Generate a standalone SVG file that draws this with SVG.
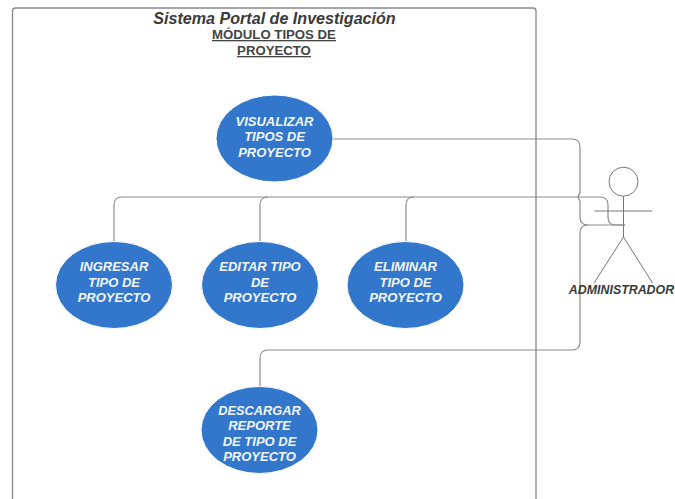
<svg xmlns="http://www.w3.org/2000/svg" width="675" height="499" viewBox="0 0 675 499">
<style>
.c{fill:none;stroke:#8c8c8c;stroke-width:1.2}
.u{fill:#3277cc;stroke:#fff;stroke-width:1}
.a{fill:none;stroke:#777;stroke-width:1}
text{font-family:"Liberation Sans",Arial,sans-serif;text-anchor:middle}
.t{font-size:13px;font-weight:bold;font-style:italic;fill:#f2f6fc}
</style>
<rect width="675" height="499" fill="#fff"/>
<g id="system"><path class="a" style="stroke:#888;stroke-width:1.3" d="M12.5 499V11Q12.500 8 15.500 8H533Q536 8 536 11V499"/>
<text x="274.500" y="24" font-size="16.100" font-weight="bold" font-style="italic" fill="#3a3a3a">Sistema Portal de Investigación</text>
<text x="274" y="39" font-size="13.200" font-weight="bold" fill="#444" text-decoration="underline">MÓDULO TIPOS DE</text>
<text x="274" y="55" font-size="13.200" font-weight="bold" fill="#444" text-decoration="underline">PROYECTO</text></g>
<g id="connectors">
<path class="c" d="M333 139H572Q580 139 580 147V193Q576.500 197 580 201V217Q580 225 588 225H625"/>
<path class="c" d="M114 242V205Q114 197 122 197H600Q608 197 608 205V217Q608 225 616 225H625"/>
<path class="c" d="M260 242V205Q260 197 268 197"/>
<path class="c" d="M406 242V205Q406 197 414 197"/>
<path class="c" d="M260 387V358Q260 350 268 350H572Q580 350 580 342V233Q580 225 588 225"/>
</g>
<g id="visualizar"><ellipse class="u" cx="274.500" cy="138.500" rx="58.500" ry="43.500"/><text class="t" x="274.500" y="126">VISUALIZAR</text><text class="t" x="274.500" y="141">TIPOS DE</text><text class="t" x="274.500" y="157">PROYECTO</text></g>
<g id="ingresar"><ellipse class="u" cx="114" cy="285" rx="58.500" ry="43.500"/><text class="t" x="114" y="271">INGRESAR</text><text class="t" x="114" y="287">TIPO DE</text><text class="t" x="114" y="302">PROYECTO</text></g>
<g id="editar"><ellipse class="u" cx="260" cy="285" rx="58.500" ry="43.500"/><text class="t" x="260" y="271">EDITAR TIPO</text><text class="t" x="260" y="287">DE</text><text class="t" x="260" y="302">PROYECTO</text></g>
<g id="eliminar"><ellipse class="u" cx="405.500" cy="285" rx="58.500" ry="43.500"/><text class="t" x="405.500" y="271">ELIMINAR</text><text class="t" x="405.500" y="287">TIPO DE</text><text class="t" x="405.500" y="302">PROYECTO</text></g>
<g id="descargar"><ellipse class="u" cx="259.500" cy="430" rx="58.500" ry="43.500"/><text class="t" x="259.500" y="415" style="font-size:12.800px">DESCARGAR</text><text class="t" x="259.500" y="430">REPORTE</text><text class="t" x="259.500" y="446">DE TIPO DE</text><text class="t" x="259.500" y="461">PROYECTO</text></g>
<g id="administrador"><circle class="a" cx="623.500" cy="181.700" r="14.500"/><path class="a" d="M623.500 196.200V237M594.500 211H652.500M623.500 237L594 283M623.500 237L652.500 283"/>
<text x="621.500" y="294" font-size="12.400" font-weight="bold" font-style="italic" fill="#3a3a3a">ADMINISTRADOR</text></g>
</svg>
